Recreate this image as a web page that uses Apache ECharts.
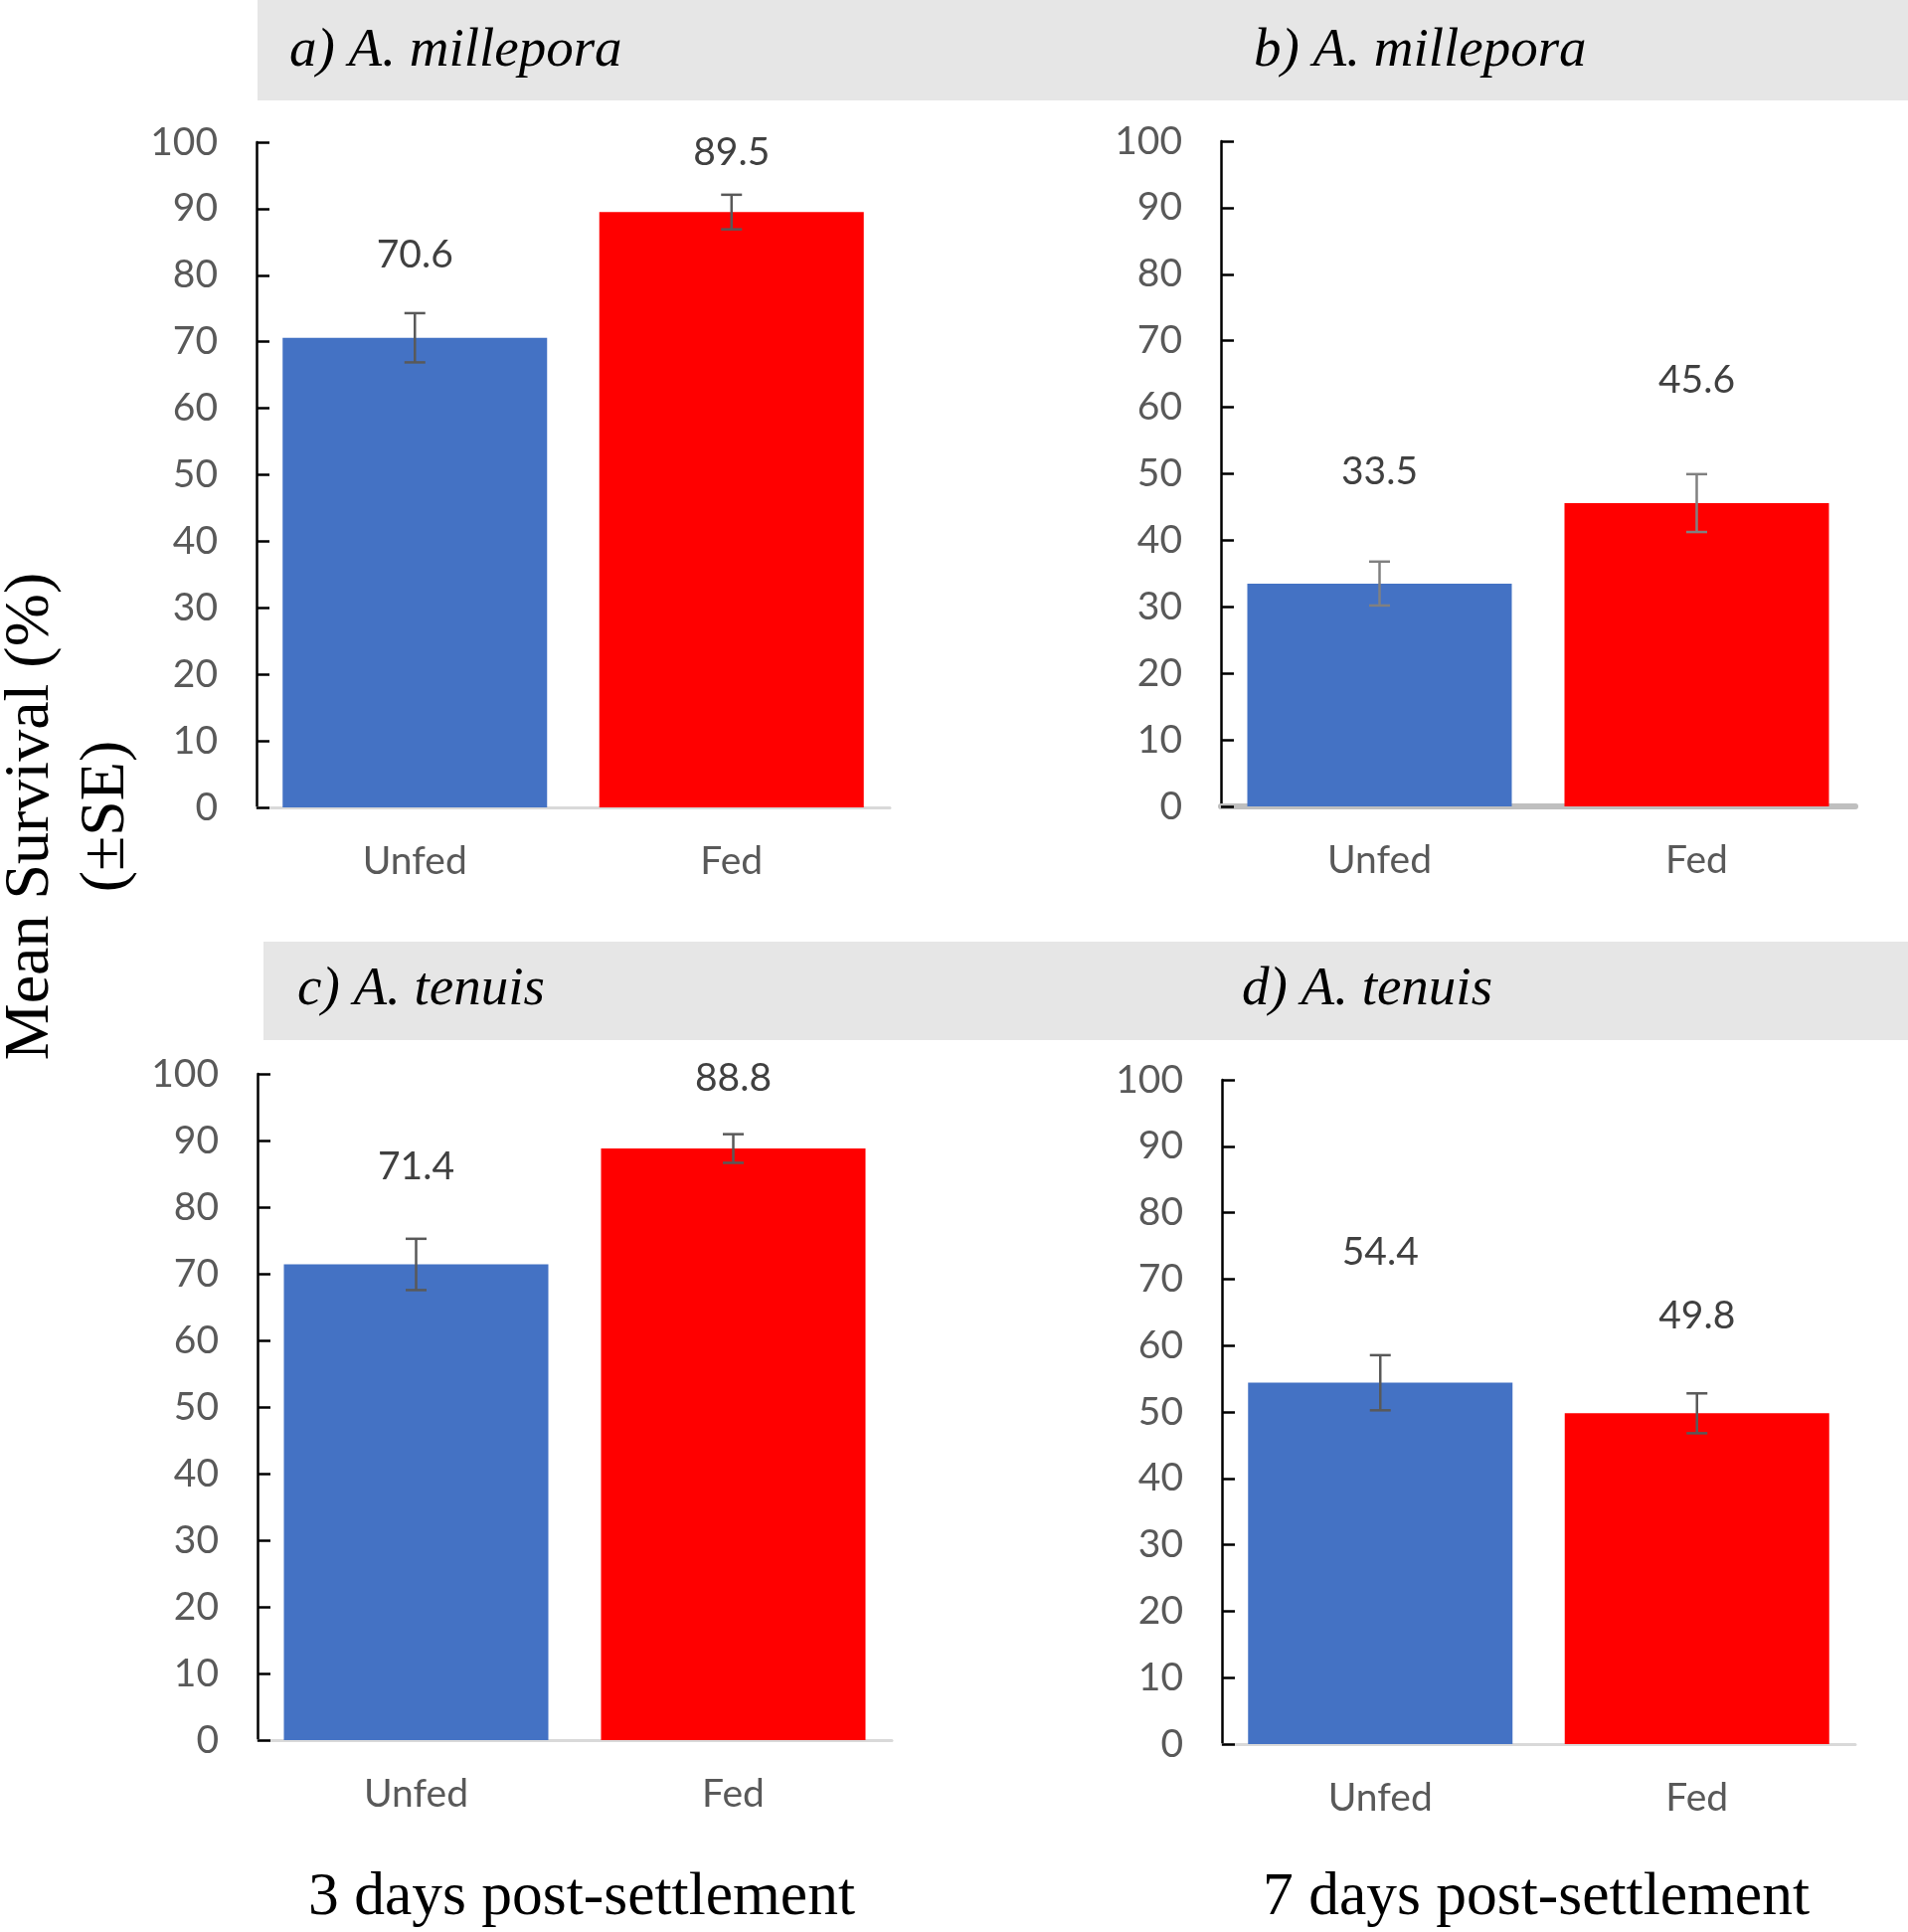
<!DOCTYPE html>
<html>
<head>
<meta charset="utf-8">
<script src="https://cdn.jsdelivr.net/npm/echarts@6/dist/echarts.min.js"></script>
<style>
html,body{margin:0;padding:0;background:#fff;}
#chart{width:1919px;height:1943px;}
</style>
</head>
<body>
<div id="chart"></div>
<script>
// ---- Data ----
const categories = ['Unfed', 'Fed'];
const panelTitles = ['a) A. millepora', 'b) A. millepora', 'c) A. tenuis', 'd) A. tenuis'];
const yTitleLines = ['Mean Survival (%)', '(\u00B1SE)'];
const timeLabels = ['3 days post-settlement', '7 days post-settlement'];
const yMin = 0, yMax = 100, yStep = 10;

const meanA = [70.6, 89.5];
const seA = [3.7, 2.6];
const labelLevelA = [83.0, 98.5];

const meanB = [33.5, 45.6];
const seB = [3.3, 4.35];
const labelLevelB = [50.3, 64.0];

const meanC = [71.4, 88.8];
const seC = [3.85, 2.15];
const labelLevelC = [86.1, 99.4];

const meanD = [54.4, 49.8];
const seD = [4.15, 3.0];
const labelLevelD = [74.0, 64.4];

const barColors = ['#4472C4', '#FF0000'];

// ---- Layout ----
const panels = [
  { mean: meanA, se: seA, lab: labelLevelA, grid: { left: 258, top: 143, width: 637, height: 669 }, xLine: { color: '#d9d9d9', width: 3 }, errColor: '#595959' },
  { mean: meanB, se: seB, lab: labelLevelB, grid: { left: 1228, top: 142, width: 638, height: 669 }, xLine: { color: '#bfbfbf', width: 6 }, errColor: '#808080' },
  { mean: meanC, se: seC, lab: labelLevelC, grid: { left: 259, top: 1080, width: 638, height: 670 }, xLine: { color: '#d9d9d9', width: 3 }, errColor: '#595959' },
  { mean: meanD, se: seD, lab: labelLevelD, grid: { left: 1229, top: 1086, width: 637, height: 668 }, xLine: { color: '#d9d9d9', width: 3 }, errColor: '#595959' }
];

const sansFont = 'Lato, "Open Sans", sans-serif';
const serifFont = '"Liberation Serif", "Times New Roman", serif';

const grids = [], xAxes = [], yAxes = [], series = [];
panels.forEach((p, k) => {
  grids.push(Object.assign({ containLabel: false }, p.grid));
  xAxes.push({
    type: 'category', gridIndex: k, data: categories,
    axisLine: { show: true, lineStyle: { color: p.xLine.color, width: p.xLine.width } },
    axisTick: { show: false },
    axisLabel: { fontFamily: sansFont, fontSize: 39, color: '#595959', margin: 35 },
    splitLine: { show: false }
  });
  yAxes.push({
    type: 'value', gridIndex: k, min: yMin, max: yMax, interval: yStep,
    axisLine: { show: true, lineStyle: { color: '#000', width: 2.5 } },
    axisTick: { show: true, inside: true, length: 13, lineStyle: { color: '#000', width: 2.5 } },
    axisLabel: { fontFamily: sansFont, fontSize: 39, color: '#595959', margin: 39 },
    splitLine: { show: false }
  });
  series.push({
    type: 'bar', xAxisIndex: k, yAxisIndex: k,
    barWidth: 266,
    data: p.mean.map((v, i) => ({ value: v, itemStyle: { color: barColors[i] } })),
    silent: true, animation: false, z: 2
  });
  const errColor = p.errColor;
  series.push({
    type: 'custom', xAxisIndex: k, yAxisIndex: k,
    data: p.mean.map((v, i) => [i, v, p.se[i], p.lab[i]]),
    clip: false, animation: false, silent: true, z: 5,
    renderItem: function (params, api) {
      const i = api.value(0), v = api.value(1), e = api.value(2), l = api.value(3);
      const top = api.coord([i, v + e]);
      const bot = api.coord([i, v - e]);
      const lab = api.coord([i, l]);
      const cw = 10.5;
      const ls = { stroke: errColor, lineWidth: 2.5 };
      return {
        type: 'group',
        children: [
          { type: 'line', shape: { x1: top[0], y1: top[1], x2: bot[0], y2: bot[1] }, style: ls },
          { type: 'line', shape: { x1: top[0] - cw, y1: top[1], x2: top[0] + cw, y2: top[1] }, style: ls },
          { type: 'line', shape: { x1: bot[0] - cw, y1: bot[1], x2: bot[0] + cw, y2: bot[1] }, style: ls },
          { type: 'text', x: lab[0], y: lab[1],
            style: { text: v.toFixed(1), fill: '#404040', font: '39px ' + sansFont, align: 'center', verticalAlign: 'middle', textAlign: 'center', textVerticalAlign: 'middle' } }
        ]
      };
    }
  });
});

const graphics = [
  { type: 'rect', shape: { x: 259, y: 0, width: 1660, height: 101 }, style: { fill: '#e6e6e6' }, z: -10 },
  { type: 'rect', shape: { x: 265, y: 947, width: 1654, height: 99 }, style: { fill: '#e6e6e6' }, z: -10 }
];
const titlePos = [[291, 52], [1261, 52], [299, 996], [1249, 996]];
panelTitles.forEach((t, k) => {
  graphics.push({
    type: 'text', x: titlePos[k][0], y: titlePos[k][1],
    style: { text: t, fill: '#000', font: 'italic 55px ' + serifFont, align: 'left', verticalAlign: 'middle', textAlign: 'left', textVerticalAlign: 'middle' }
  });
});
const yTitleX = [31, 107];
yTitleLines.forEach((t, k) => {
  graphics.push({
    type: 'text', x: yTitleX[k], y: 821, rotation: Math.PI / 2,
    style: { text: t, fill: '#000', font: '64px ' + serifFont, align: 'center', verticalAlign: 'middle', textAlign: 'center', textVerticalAlign: 'middle' }
  });
});
const timeX = [585, 1545];
timeLabels.forEach((t, k) => {
  graphics.push({
    type: 'text', x: timeX[k], y: 1909,
    style: { text: t, fill: '#000', font: '61.5px ' + serifFont, align: 'center', verticalAlign: 'middle', textAlign: 'center', textVerticalAlign: 'middle' }
  });
});

const chart = echarts.init(document.getElementById('chart'), null, { renderer: 'canvas' });
chart.setOption({
  backgroundColor: '#ffffff',
  animation: false,
  grid: grids,
  xAxis: xAxes,
  yAxis: yAxes,
  series: series,
  graphic: graphics
});
</script>
</body>
</html>
